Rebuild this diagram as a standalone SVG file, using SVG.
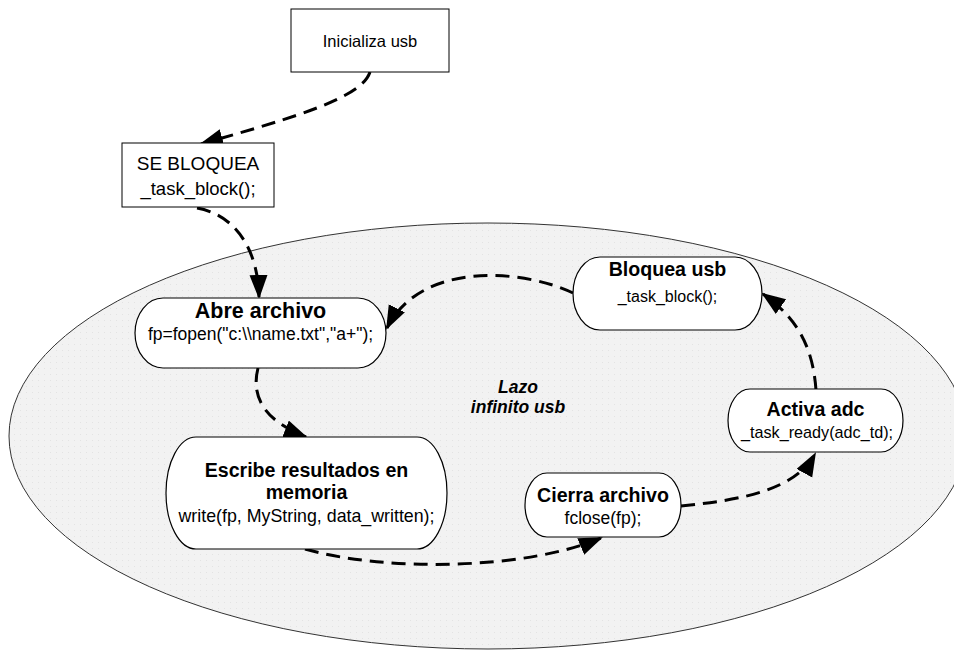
<svg xmlns="http://www.w3.org/2000/svg" width="954" height="650" viewBox="0 0 954 650">
<defs>
<pattern id="dots" x="0" y="0" width="6" height="6" patternUnits="userSpaceOnUse">
<rect width="6" height="6" fill="#f2f2f2"/>
<rect x="2" y="2" width="1" height="1" fill="#e3e3e3"/>
</pattern>
<marker id="arr" markerUnits="userSpaceOnUse" markerWidth="26" markerHeight="20" refX="22" refY="9" orient="auto">
<path d="M0,0 L24,9 L0,18 z" fill="#000"/>
</marker>
</defs>
<style>
text{font-family:"Liberation Sans",Arial,sans-serif;fill:#000;text-anchor:middle}
.box{fill:#fff;stroke:#000;stroke-width:1}
.st{fill:#fff;stroke:#000;stroke-width:1.2}
.t{font-weight:bold;font-size:19.6px}
.s{font-size:17.5px}
.c{fill:none;stroke:#000;stroke-width:3;stroke-dasharray:14 8;marker-end:url(#arr)}
</style>
<rect width="954" height="650" fill="#fff"/>
<g id="loop">
<ellipse cx="488" cy="436" rx="479" ry="213" fill="url(#dots)" stroke="#333" stroke-width="1"/>
<text x="518" y="393" style="font-weight:bold;font-style:italic;font-size:17.5px">Lazo</text>
<text x="518" y="413" style="font-weight:bold;font-style:italic;font-size:17.5px">infinito usb</text>
</g>
<g id="connectors">
<path class="c" d="M370,72 C362,97 300,116 201,144"/>
<path class="c" d="M197,208 C236,215 258,250 259,297"/>
<path class="c" d="M573,293 C520,268 420,262 387,328"/>
<path class="c" d="M258,368 C250,400 268,422 306,437"/>
<path class="c" d="M305,549 C385,572 525,570 601,538"/>
<path class="c" d="M681,506 C742,500 795,490 815,454"/>
<path class="c" d="M816,390 C813,350 800,320 763,294"/>
</g>
<g id="n-inicializa">
<rect class="box" x="291" y="9" width="158" height="63"/>
<text x="370" y="47" style="font-size:16.5px">Inicializa usb</text>
</g>
<g id="n-sebloquea">
<rect class="box" x="122" y="143" width="152" height="64"/>
<text x="198" y="170" style="font-size:19px">SE BLOQUEA</text>
<text x="198" y="195" style="font-size:18.5px">_task_block();</text>
</g>
<g id="n-abre">
<rect class="st" x="135" y="298" width="251" height="70" rx="28" ry="35"/>
<text x="260.5" y="318" style="font-weight:bold;font-size:21.5px">Abre archivo</text>
<text x="260.5" y="340" class="s">fp=fopen("c:\\name.txt","a+");</text>
</g>
<g id="n-bloquea">
<rect class="st" x="573" y="257" width="189" height="73" rx="27" ry="36.5"/>
<text x="667.5" y="276" class="t">Bloquea usb</text>
<text x="667.5" y="302" style="font-size:16px">_task_block();</text>
</g>
<g id="n-activa">
<rect class="st" x="728" y="389" width="175" height="63" rx="22" ry="31.5"/>
<text x="815.5" y="416" class="t">Activa adc</text>
<text x="817" y="438" style="font-size:16.2px">_task_ready(adc_td);</text>
</g>
<g id="n-escribe">
<rect class="st" x="166" y="437" width="281" height="112" rx="30" ry="56"/>
<text x="306.5" y="477" class="t">Escribe resultados en</text>
<text x="306.5" y="499" class="t">memoria</text>
<text x="306.5" y="522" style="font-size:17.8px">write(fp, MyString, data_written);</text>
</g>
<g id="n-cierra">
<rect class="st" x="525" y="473" width="156" height="64" rx="22" ry="32"/>
<text x="603" y="502" class="t">Cierra archivo</text>
<text x="603" y="524" class="s">fclose(fp);</text>
</g>
</svg>
